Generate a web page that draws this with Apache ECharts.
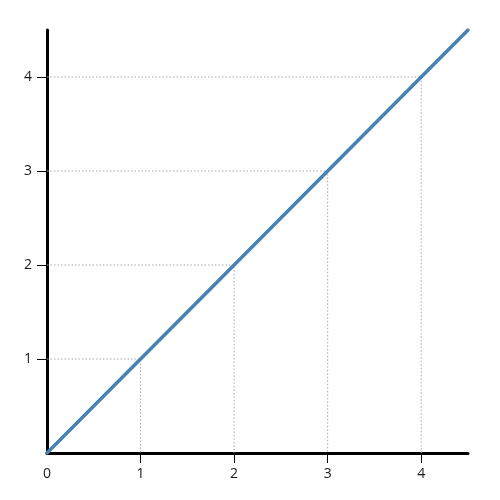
<!DOCTYPE html>
<html><head><meta charset="utf-8">
<script src="https://cdn.jsdelivr.net/npm/echarts@6/dist/echarts.min.js"></script>
<style>html,body{margin:0;padding:0;background:#fff}#c{width:500px;height:500px}</style>
</head><body><div id="c"></div>
<script>
const lineX = [0, 1, 2, 3, 4, 4.5];
const lineY = [0, 1, 2, 3, 4, 4.5];
const xTickLabels = [0, 1, 2, 3, 4];
const yTickLabels = [1, 2, 3, 4];
const dropPoints = [1, 2, 3, 4];

const chart = echarts.init(document.getElementById('c'));
const dropSeries = dropPoints.map(v => ({
  type: 'line',
  data: [[0, v], [v, v], [v, 0]],
  symbol: 'none',
  silent: true,
  z: 1,
  lineStyle: { color: '#a8a8a8', width: 1, type: [1.5, 2] }
}));
chart.setOption({
  animation: false,
  grid: { left: 47, right: 32, top: 30, bottom: 47 },
  xAxis: {
    type: 'value', min: 0, max: 4.5, interval: 1,
    splitLine: { show: false },
    axisLine: { show: true, onZero: false, lineStyle: { color: '#000', width: 3 } },
    axisTick: { show: true, length: 10, customValues: dropPoints, lineStyle: { color: '#000', width: 1 } },
    axisLabel: { customValues: xTickLabels, color: '#1a1a1a', fontSize: 14, fontFamily: 'Open Sans', margin: 14 }
  },
  yAxis: {
    type: 'value', min: 0, max: 4.5, interval: 1,
    splitLine: { show: false },
    axisLine: { show: true, onZero: false, lineStyle: { color: '#000', width: 3 } },
    axisTick: { show: true, length: 10, customValues: yTickLabels, lineStyle: { color: '#000', width: 1 } },
    axisLabel: { customValues: yTickLabels, color: '#1a1a1a', fontSize: 14, fontFamily: 'Open Sans', margin: 15 }
  },
  series: dropSeries.concat([{
    type: 'line',
    data: lineX.map((x, i) => [x, lineY[i]]),
    symbol: 'none',
    z: 3,
    lineStyle: { color: '#4682b4', width: 3.5, cap: 'round' }
  }])
});
</script></body></html>
